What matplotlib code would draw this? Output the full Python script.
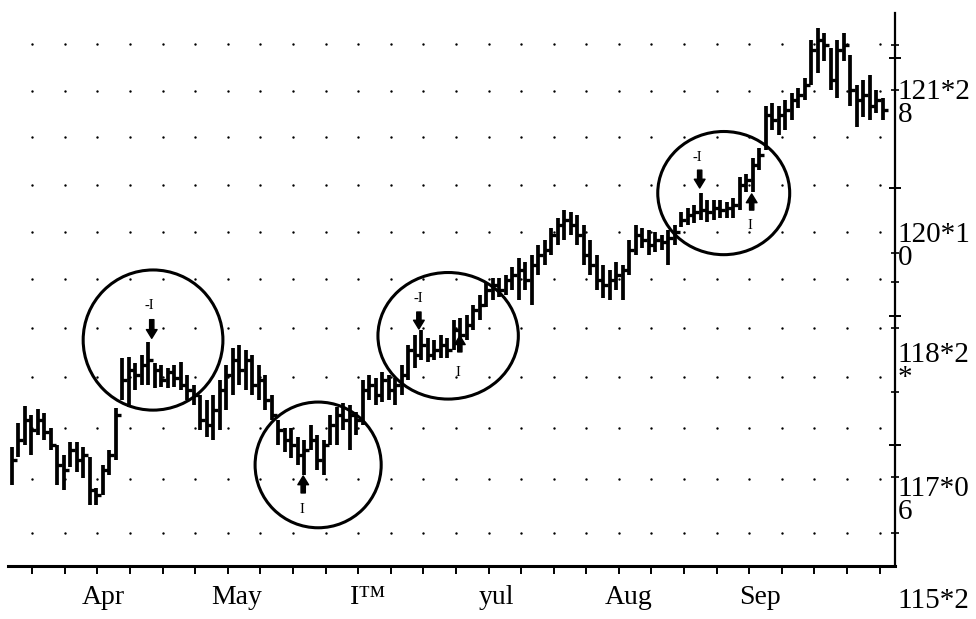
import matplotlib
matplotlib.use("Agg")
import matplotlib.pyplot as plt
import numpy as np
from matplotlib.patches import Ellipse, FancyArrowPatch
from matplotlib.transforms import blended_transform_factory

plt.rcParams['font.family'] = ['Liberation Serif', 'DejaVu Serif']

# ---- daily bars (price, points) ----
highs = [117.79, 118.07, 118.27, 118.17, 118.24, 118.19, 118.01, 117.81, 117.70, 117.85,
         117.85, 117.79, 117.67, 117.31, 117.58, 117.76, 118.25, 118.84, 118.85, 118.78,
         118.87, 119.03, 118.78, 118.76, 118.72, 118.76, 118.79, 118.64, 118.52, 118.40,
         118.34, 118.40, 118.58, 118.76, 118.96, 118.99, 118.93, 118.87, 118.76, 118.64,
         118.40, 118.11, 118.01, 118.01, 117.91, 117.87, 118.05, 117.93, 117.87, 118.17,
         118.26, 118.31, 118.29, 118.20, 118.58, 118.64, 118.60, 118.67, 118.64, 118.60,
         118.76, 118.99, 119.11, 119.17, 119.07, 119.05, 119.11, 119.07, 119.29, 119.31,
         119.34, 119.46, 119.58, 119.72, 119.78, 119.78, 119.81, 119.91, 120.01, 119.97,
         120.05, 120.17, 120.23, 120.37, 120.49, 120.58, 120.56, 120.52, 120.40, 120.23,
         120.05, 119.93, 119.87, 119.97, 119.93, 120.23, 120.40, 120.37, 120.34, 120.32,
         120.29, 120.34, 120.40, 120.56, 120.60, 120.64, 120.78, 120.70, 120.70, 120.70,
         120.67, 120.72, 120.97, 121.01, 121.19, 121.31, 121.81, 121.84, 121.81, 121.87,
         121.96, 122.02, 122.13, 122.58, 122.72, 122.67, 122.49, 122.58, 122.66, 122.40,
         122.05, 122.11, 122.17, 121.99, 121.90]
lows = [117.34, 117.67, 117.81, 117.70, 117.93, 117.87, 117.76, 117.34, 117.29, 117.56,
        117.50, 117.43, 117.11, 117.11, 117.23, 117.46, 117.64, 118.34, 118.26, 118.46,
        118.52, 118.52, 118.49, 118.50, 118.49, 118.50, 118.46, 118.34, 118.29, 117.99,
        117.91, 117.87, 117.99, 118.23, 118.40, 118.52, 118.46, 118.40, 118.34, 118.23,
        118.11, 117.81, 117.73, 117.66, 117.58, 117.46, 117.76, 117.52, 117.46, 117.81,
        117.81, 117.99, 117.76, 117.93, 118.05, 118.34, 118.29, 118.32, 118.34, 118.29,
        118.40, 118.58, 118.72, 118.81, 118.79, 118.81, 118.84, 118.84, 118.93, 118.99,
        119.05, 119.17, 119.29, 119.44, 119.52, 119.56, 119.58, 119.64, 119.52, 119.64,
        119.46, 119.81, 119.93, 120.05, 120.17, 120.23, 120.29, 120.17, 119.93, 119.81,
        119.64, 119.55, 119.52, 119.64, 119.52, 119.81, 120.05, 120.13, 120.05, 120.09,
        120.11, 119.93, 120.17, 120.38, 120.40, 120.43, 120.46, 120.44, 120.46, 120.49,
        120.49, 120.49, 120.58, 120.79, 120.79, 121.05, 121.29, 121.52, 121.46, 121.52,
        121.64, 121.78, 121.87, 122.05, 122.19, 122.34, 121.99, 121.90, 122.34, 121.81,
        121.56, 121.67, 121.64, 121.72, 121.64]
closes = [117.64, 117.87, 118.11, 117.99, 118.11, 117.97, 117.81, 117.58, 117.52, 117.76,
          117.64, 117.70, 117.29, 117.23, 117.52, 117.70, 118.17, 118.58, 118.70, 118.64,
          118.76, 118.81, 118.70, 118.58, 118.67, 118.60, 118.52, 118.46, 118.40, 118.11,
          118.05, 118.23, 118.46, 118.64, 118.81, 118.70, 118.81, 118.52, 118.58, 118.34,
          118.17, 117.99, 117.87, 117.81, 117.70, 117.76, 117.87, 117.64, 117.81, 118.05,
          118.17, 118.11, 118.17, 118.11, 118.46, 118.52, 118.40, 118.58, 118.46, 118.52,
          118.64, 118.93, 118.87, 118.99, 118.87, 118.93, 118.99, 118.93, 119.17, 119.11,
          119.23, 119.40, 119.46, 119.64, 119.70, 119.64, 119.76, 119.81, 119.87, 119.76,
          119.93, 120.05, 120.11, 120.29, 120.40, 120.46, 120.40, 120.29, 120.05, 119.93,
          119.76, 119.70, 119.76, 119.81, 119.87, 120.11, 120.29, 120.23, 120.17, 120.23,
          120.20, 120.25, 120.32, 120.46, 120.52, 120.56, 120.58, 120.56, 120.60, 120.58,
          120.60, 120.64, 120.87, 120.93, 121.11, 121.23, 121.70, 121.64, 121.70, 121.76,
          121.87, 121.93, 122.05, 122.46, 122.58, 122.52, 122.11, 122.46, 122.52, 121.99,
          121.87, 121.93, 121.81, 121.87, 121.76]

month_labels = ["Apr", "May", "I\u2122", "yul", "Aug", "Sep"]
month_pos = [14.0, 34.6, 54.8, 74.6, 94.8, 115.1]

price_labels = ["121*2\n8", "120*1\n0", "118*2\n*", "117*0\n6"]
price_label_pos = [121.83, 120.15, 118.74, 117.16]
bottom_label = "115*2"
bottom_label_pos = 115.98

ytick_major = [122.37, 120.84, 119.33, 117.81]
ytick_minor = [122.52, 121.99, 120.07, 119.73, 119.19, 118.44, 117.44, 116.78]
dot_rows = [122.53, 121.98, 121.44, 120.87, 120.32, 119.77, 119.19, 118.61, 118.01, 117.41, 116.78]

# circles: (center bar, center price, width bars, height price)
circles = [(21.7, 119.05, 21.5, 1.65), (47.1, 117.58, 19.4, 1.48),
           (67.1, 119.10, 21.6, 1.49), (109.5, 120.78, 20.3, 1.45)]
# arrows: (bar, tail price, tip price)
arrows = [(21.5, 119.29, 119.07), (44.8, 117.25, 117.45), (62.6, 119.38, 119.18),
          (68.9, 118.91, 119.10), (105.8, 121.05, 120.84), (113.8, 120.58, 120.77)]
# arrow captions: (bar, price, text)
captions = [(21.2, 119.46, "-I"), (44.6, 117.05, "I"), (62.5, 119.54, "-I"),
            (68.6, 118.67, "I"), (105.5, 121.20, "-I"), (113.5, 120.40, "I")]

n = len(highs)
x = np.arange(n)
week_ticks = 3.1 + 5.015 * np.arange(27)

fig = plt.figure(figsize=(9.76, 6.19), dpi=100)
ax = fig.add_axes([8 / 976, 1 - 566 / 619, 887 / 976, 553 / 619])

# dotted grid
gx, gy = np.meshgrid(week_ticks, dot_rows)
ax.scatter(gx.ravel(), gy.ravel(), s=3, color='black', linewidths=0, zorder=1)

# bars
ax.vlines(x, lows, highs, color='black', linewidth=2.7, zorder=3)
ax.hlines(closes, x, x + 0.7, color='black', linewidth=2.4, zorder=3)

for cx, cy, w, h in circles:
    ax.add_patch(Ellipse((cx, cy), w, h, fill=False, edgecolor='black', linewidth=2.2, zorder=4))
for bx, t, tip in arrows:
    ax.add_patch(FancyArrowPatch((bx, t), (bx, tip),
                                 arrowstyle='simple,head_width=0.55,head_length=0.45,tail_width=0.22',
                                 mutation_scale=14, color='black', shrinkA=0, shrinkB=0, zorder=5))
for bx, py, s in captions:
    ax.text(bx, py, s, ha='center', va='center', fontsize=10.5, zorder=5)

ax.set_xlim(-0.615, 135.85)
ax.set_ylim(116.39, 122.90)

for side in ['left', 'top']:
    ax.spines[side].set_visible(False)
ax.spines['bottom'].set_linewidth(2.2)
ax.spines['right'].set_linewidth(1.6)

ax.set_xticks(week_ticks)
ax.set_xticklabels([])
ax.tick_params(axis='x', which='major', direction='out', length=6, width=1.4)
ax.set_xticks(month_pos, minor=True)
ax.set_xticklabels(month_labels, minor=True, fontsize=20)
ax.tick_params(axis='x', which='minor', length=0, pad=14)

ax.yaxis.tick_right()
ax.set_yticks(ytick_major)
ax.set_yticklabels([])
ax.set_yticks(ytick_minor, minor=True)
ax.tick_params(axis='y', which='major', direction='inout', length=9, width=1.4)
ax.tick_params(axis='y', which='minor', direction='inout', length=6, width=1.2)

tr = blended_transform_factory(ax.transAxes, ax.transData)
for lab, pos in zip(price_labels, price_label_pos):
    ax.text(1.003, pos, lab, transform=tr, ha='left', va='center', fontsize=21,
            linespacing=0.85, clip_on=False)
ax.text(1.003, bottom_label_pos, bottom_label, transform=tr, ha='left', va='center',
        fontsize=21, clip_on=False)

fig.savefig("out.png", dpi=100)
